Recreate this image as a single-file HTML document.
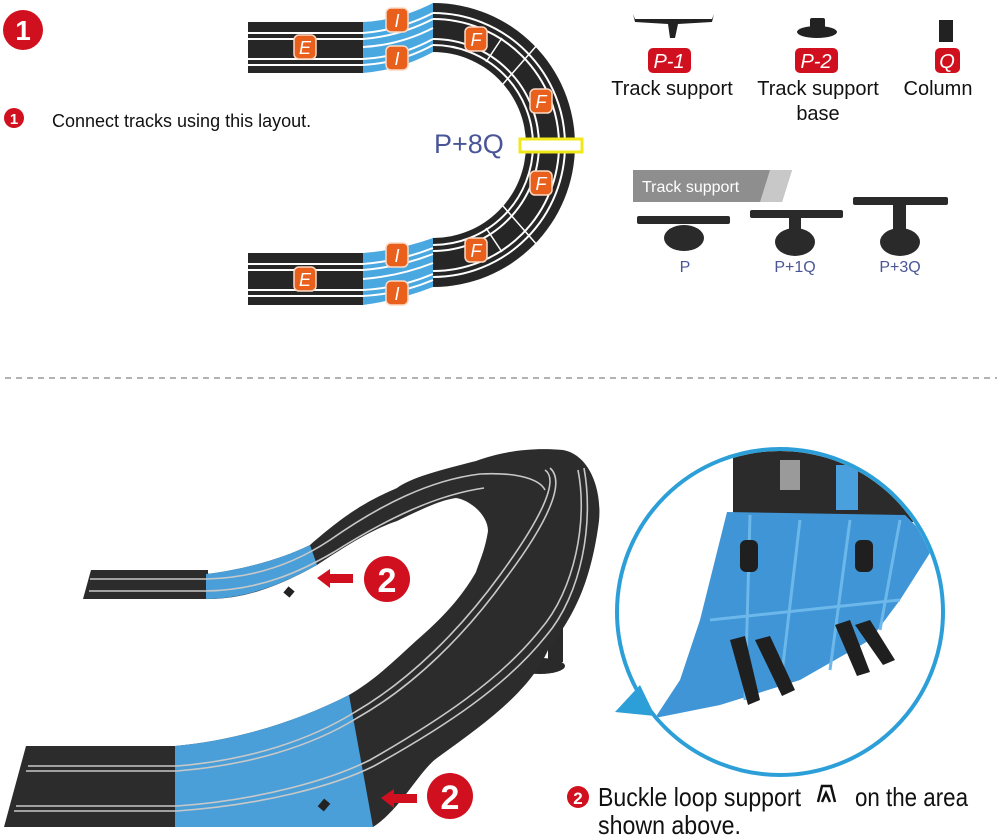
<!DOCTYPE html>
<html><head><meta charset="utf-8"><style>
html,body{margin:0;padding:0;background:#fff;}
svg{display:block;}
text{font-family:"Liberation Sans",sans-serif;}
</style></head><body>
<svg width="1000" height="837" viewBox="0 0 1000 837" xmlns="http://www.w3.org/2000/svg">
<defs>
<clipPath id="cc"><circle cx="780" cy="612" r="161"/></clipPath>
<g id="badge"><rect x="-11" y="-12" width="22" height="24" rx="5" fill="#e8601c" stroke="#fbd9c4" stroke-width="1.5"/></g>
</defs>

<circle cx="23" cy="30" r="20" fill="#d0101e"/>
<text x="23" y="40" font-size="28" font-weight="bold" fill="#fff" text-anchor="middle">1</text>
<circle cx="14" cy="118" r="10" fill="#d0101e"/>
<text x="14" y="124" font-size="15" font-weight="bold" fill="#fff" text-anchor="middle">1</text>
<text x="52" y="127" font-size="18" fill="#111">Connect tracks using this layout.</text>

<g>
 <rect x="248" y="22" width="115" height="51" fill="#262626"/>
 <rect x="248" y="253" width="115" height="52" fill="#262626"/>
 <g stroke="#fff" stroke-width="2">
  <line x1="248" y1="33" x2="363" y2="33"/><line x1="248" y1="39" x2="363" y2="39"/>
  <line x1="248" y1="59" x2="363" y2="59"/><line x1="248" y1="65" x2="363" y2="65"/>
  <line x1="248" y1="264" x2="363" y2="264"/><line x1="248" y1="270" x2="363" y2="270"/>
  <line x1="248" y1="290" x2="363" y2="290"/><line x1="248" y1="296" x2="363" y2="296"/>
 </g>
 <path d="M433 3 A142 142 0 0 1 433 287 L433 238 A93 93 0 0 0 433 52 Z" fill="#262626"/>
 <g fill="none" stroke="#fff" stroke-width="2">
  <path d="M433 13 A132 132 0 0 1 433 277"/>
  <path d="M433 19 A126 126 0 0 1 433 271"/>
  <path d="M433 39 A106 106 0 0 1 433 251"/>
  <path d="M433 45 A100 100 0 0 1 433 245"/>
 </g>
 <g stroke="#fff" stroke-width="1.5">
  <line x1="503" y1="84" x2="538" y2="44"/>
  <line x1="503" y1="206" x2="538" y2="246"/>
  <line x1="486" y1="62" x2="502" y2="38"/>
  <line x1="486" y1="228" x2="502" y2="252"/>
 </g>
 <path d="M363 22 Q400 20 433 3 L433 52 Q400 70 363 73 Z" fill="#4aa8e0"/>
 <path d="M363 253 Q400 250 433 238 L433 287 Q400 300 363 305 Z" fill="#4aa8e0"/>
 <g fill="none" stroke="#fff" stroke-width="2">
  <path d="M363 33 Q400 30 433 13"/><path d="M363 39 Q400 36 433 19"/>
  <path d="M363 59 Q400 57 433 39"/><path d="M363 65 Q400 63 433 45"/>
  <path d="M363 47 Q400 45 433 28"/>
  <path d="M363 264 Q400 261 433 248"/><path d="M363 270 Q400 267 433 254"/>
  <path d="M363 290 Q400 288 433 274"/><path d="M363 296 Q400 294 433 280"/>
  <path d="M363 279 Q400 276 433 263"/>
 </g>
 <g font-size="18" font-style="italic" fill="#fff" text-anchor="middle">
  <use href="#badge" x="305" y="47"/><text x="305" y="54">E</text>
  <use href="#badge" x="305" y="279"/><text x="305" y="286">E</text>
  <use href="#badge" x="397" y="20"/><text x="397" y="27">I</text>
  <use href="#badge" x="397" y="58"/><text x="397" y="65">I</text>
  <use href="#badge" x="397" y="255"/><text x="397" y="262">I</text>
  <use href="#badge" x="397" y="293"/><text x="397" y="300">I</text>
  <use href="#badge" x="476" y="39"/><text x="476" y="46">F</text>
  <use href="#badge" x="541" y="101"/><text x="541" y="108">F</text>
  <use href="#badge" x="541" y="183"/><text x="541" y="190">F</text>
  <use href="#badge" x="476" y="250"/><text x="476" y="257">F</text>
 </g>
 <rect x="520" y="139" width="62" height="13" fill="#fff" stroke="#f0e81a" stroke-width="3"/>
 <text x="434" y="153" font-size="27" fill="#4a5598">P+8Q</text>
</g>

<g fill="#222">
 <path d="M633 14 L635 19 L712 19 L714 14 L712 22 L678 24 L675 38 L670 38 L668 24 L635 22 Z"/>
 <ellipse cx="817" cy="32" rx="20" ry="6"/>
 <rect x="810" y="18" width="15" height="15" rx="2"/>
 <rect x="939" y="20" width="14" height="22"/>
</g>
<rect x="648" y="48" width="43" height="25" rx="5" fill="#d0101e"/>
<rect x="795" y="48" width="43" height="25" rx="5" fill="#d0101e"/>
<rect x="935" y="48" width="25" height="25" rx="5" fill="#d0101e"/>
<g font-size="20" font-style="italic" fill="#fff" text-anchor="middle">
 <text x="669" y="68">P-1</text><text x="816" y="68">P-2</text><text x="947" y="68">Q</text>
</g>
<g font-size="20" fill="#111" text-anchor="middle">
 <text x="672" y="95">Track support</text>
 <text x="818" y="95">Track support</text>
 <text x="818" y="120">base</text>
 <text x="938" y="95">Column</text>
</g>
<polygon points="633,170 792,170 782,202 633,202" fill="#8e8e8e"/>
<polygon points="770,170 792,170 782,202 760,202" fill="#c8c8c8"/>
<text x="642" y="192" font-size="16" fill="#fff">Track support</text>
<g fill="#2a2a2a">
 <rect x="637" y="216" width="93" height="8" rx="2"/>
 <ellipse cx="684" cy="238" rx="20" ry="13"/>
 <rect x="750" y="210" width="93" height="8" rx="2"/>
 <rect x="789" y="218" width="12" height="12"/>
 <ellipse cx="795" cy="242" rx="20" ry="14"/>
 <rect x="853" y="197" width="95" height="8" rx="2"/>
 <rect x="893" y="205" width="13" height="30"/>
 <ellipse cx="900" cy="242" rx="20" ry="14"/>
</g>
<g font-size="16" fill="#4a5598" text-anchor="middle">
 <text x="685" y="272">P</text><text x="795" y="272">P+1Q</text><text x="900" y="272">P+3Q</text>
</g>

<line x1="5" y1="378" x2="997" y2="378" stroke="#999" stroke-width="1.5" stroke-dasharray="6,5"/>

<g>
 <rect x="548" y="600" width="15" height="62" fill="#2a2a2a"/>
 <ellipse cx="540" cy="666" rx="25" ry="8" fill="#2a2a2a"/>
 <polygon points="26,746 177,746 175,827 4,827" fill="#2c2c2c"/>
 <polygon points="91,570 208,570 208,599 83,599" fill="#2c2c2c"/>
 <path d="M175 827 L373 827 C400 810 420 770 437 758 C490 720 530 690 548 650 C570 620 590 590 599 521 C602 490 590 455 563 450 C530 447 500 452 476 461 C440 470 410 478 397 488 C370 500 350 510 310 545 C280 560 240 570 206 574 L206 599 C250 600 290 580 317 565 C340 550 370 530 397 521 C420 510 440 500 456 498 C470 500 488 515 488 531 C485 550 480 560 476 572 C460 600 440 620 417 640 C395 660 375 680 349 695 C300 720 240 740 175 746 Z" fill="#2c2c2c"/>
 <path d="M175 746 C240 740 300 720 349 695 L373 827 L175 827 Z" fill="#4a9fd8"/>
 <path d="M206 574 C240 570 280 560 310 545 L317 565 C290 580 250 599 206 599 Z" fill="#4a9fd8"/>
 <g fill="none" stroke="#c8c8c8" stroke-width="1.6">
  <path d="M28 766 L177 766 C250 760 310 740 355 712 C410 680 460 630 500 575 C540 520 560 480 545 470"/>
  <path d="M26 771 L177 771 C250 765 312 746 357 718 C414 686 466 634 506 578 C548 522 566 482 550 468"/>
  <path d="M16 806 L177 806 C260 800 330 780 370 760 C440 720 500 680 540 630 C575 590 588 520 578 470"/>
  <path d="M14 811 L177 811 C262 805 334 786 374 766 C446 726 506 686 546 636 C582 594 594 522 584 468"/>
  <path d="M90 579 L206 579 C260 578 300 560 330 540 C380 505 430 480 480 474 C520 472 540 480 545 490"/>
  <path d="M89 591 L206 591 C260 590 300 572 334 552 C385 520 435 495 484 488"/>
 </g>
 <rect x="285" y="588" width="8" height="8" fill="#222" transform="rotate(40 289 592)"/>
 <rect x="320" y="800" width="8" height="10" fill="#222" transform="rotate(40 324 805)"/>
 <polygon points="317,578 330,569 330,574 353,574 353,583 330,583 330,588" fill="#d0101e"/>
 <circle cx="387" cy="579" r="23" fill="#d0101e"/>
 <text x="387" y="592" font-size="34" font-weight="bold" fill="#fff" text-anchor="middle">2</text>
 <polygon points="381,798 394,789 394,794 417,794 417,803 394,803 394,808" fill="#d0101e"/>
 <circle cx="450" cy="796" r="23" fill="#d0101e"/>
 <text x="450" y="809" font-size="34" font-weight="bold" fill="#fff" text-anchor="middle">2</text>
</g>

<g clip-path="url(#cc)">
 <rect x="733" y="440" width="180" height="82" fill="#2b2b2b"/>
 <rect x="780" y="460" width="20" height="30" fill="#9a9a9a"/>
 <rect x="836" y="465" width="22" height="45" fill="#4aa0dc"/>
 <polygon points="727,512 905,515 935,545 900,600 870,640 800,680 720,705 655,718 680,680 700,620 715,560" fill="#3f95d6"/>
 <g stroke="#6cb8ea" stroke-width="3" fill="none">
  <path d="M750 515 L745 700"/><path d="M800 520 L780 690"/><path d="M850 520 L830 670"/><path d="M900 520 L880 630"/>
  <path d="M710 620 L900 600"/>
 </g>
 <g fill="#1f1f1f">
  <rect x="740" y="540" width="18" height="32" rx="6"/>
  <rect x="855" y="540" width="18" height="32" rx="6"/>
  <polygon points="730,640 745,636 760,700 748,705"/>
  <polygon points="755,640 770,636 795,690 782,696"/>
  <polygon points="835,625 850,620 870,672 857,676"/>
  <polygon points="855,625 870,620 895,660 883,665"/>
 </g>
</g>
<circle cx="780" cy="612" r="163" fill="none" stroke="#2d9fd8" stroke-width="4"/>
<polygon points="615,712 640,685 655,716" fill="#2d9fd8"/>

<circle cx="578" cy="797" r="11" fill="#d0101e"/>
<text x="578" y="804" font-size="17" font-weight="bold" fill="#fff" text-anchor="middle">2</text>
<text x="598" y="806" font-size="26" fill="#111" textLength="203" lengthAdjust="spacingAndGlyphs">Buckle loop support</text>
<path d="M818 802 L822 786 L831 786 L835 802 M822 802 L826 793 L830 802" fill="none" stroke="#111" stroke-width="2.5"/>
<text x="855" y="806" font-size="26" fill="#111" textLength="113" lengthAdjust="spacingAndGlyphs">on the area</text>
<text x="598" y="834" font-size="26" fill="#111" textLength="143" lengthAdjust="spacingAndGlyphs">shown above.</text>
</svg>
</body></html>
